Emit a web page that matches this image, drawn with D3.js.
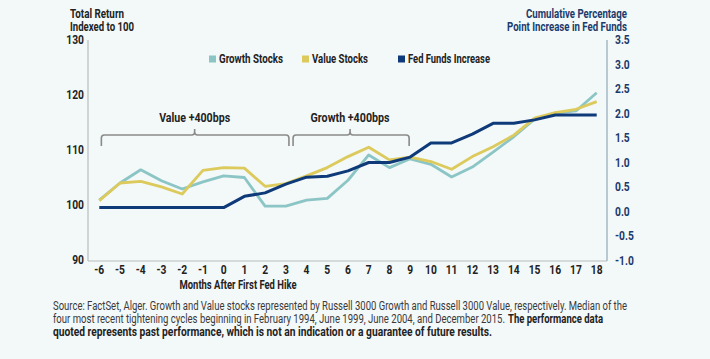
<!DOCTYPE html>
<html><head><meta charset="utf-8">
<script src="https://cdn.jsdelivr.net/npm/d3@7"></script>
<style>
html,body{margin:0;padding:0;background:#f3f8f8;}
svg{display:block;font-family:"Roboto","Liberation Sans",sans-serif;}
</style></head><body>
<svg id="c" width="710" height="359"></svg>
<script>
const months = [-6,-5,-4,-3,-2,-1,0,1,2,3,4,5,6,7,8,9,10,11,12,13,14,15,16,17,18];
const growth = [100.9,104.0,106.4,104.4,102.9,104.2,105.3,105.0,99.8,99.8,100.9,101.2,104.5,109.1,106.8,108.4,107.4,105.1,106.9,109.6,112.4,115.6,116.7,117.1,120.4];
const value  = [100.8,104.0,104.3,103.3,102.0,106.3,106.8,106.7,103.4,103.9,105.3,106.8,108.8,110.5,108.2,108.7,107.9,106.5,108.8,110.6,112.7,115.8,116.8,117.4,118.8];
const fedFunds = [0.08,0.08,0.08,0.08,0.08,0.08,0.08,0.31,0.38,0.56,0.70,0.72,0.83,1.00,1.00,1.11,1.40,1.40,1.58,1.80,1.80,1.87,1.97,1.97,1.97];
const leftTicks = [90,100,110,120,130];
const rightTicks = [-1.0,-0.5,0.0,0.5,1.0,1.5,2.0,2.5,3.0,3.5];
const seriesNames = ["Growth Stocks","Value Stocks","Fed Funds Increase"];
const brackets = [{label:"Value +400bps", from:-5.9, to:3.15, mid:-1.4},
                  {label:"Growth +400bps", from:3.35, to:8.95, mid:6.1}];

const colors = {growth:"#8cc5c5", value:"#dcca5c", fed:"#0f3a7a"};
const svg = d3.select("#c");
const x = d3.scaleLinear().domain([-6,18]).range([99.3,596.7]);
const yL = d3.scaleLinear().domain([90,130]).range([260,40]);
const yR = d3.scaleLinear().domain([-1,3.5]).range([260.5,40]);

function fit(sel, w){ sel.each(function(){ this.setAttribute("textLength", w); this.setAttribute("lengthAdjust","spacingAndGlyphs"); }); return sel; }
function squeeze(sel, f){ sel.each(function(){ const l=this.getComputedTextLength(); this.setAttribute("textLength", l*f); this.setAttribute("lengthAdjust","spacingAndGlyphs"); }); return sel; }

// axes lines
svg.append("line").attr("x1",88).attr("x2",88).attr("y1",40).attr("y2",261).attr("stroke","#b8bcbe").attr("stroke-width",1.2);
svg.append("line").attr("x1",88).attr("x2",607).attr("y1",261).attr("y2",261).attr("stroke","#b8bcbe").attr("stroke-width",1.2);
svg.append("line").attr("x1",607).attr("x2",607).attr("y1",40).attr("y2",261).attr("stroke","#9fb4c2").attr("stroke-width",1.4);

// left tick labels
squeeze(svg.selectAll(".lt").data(leftTicks).enter().append("text")
  .attr("x",84).attr("y",d=>yL(d)).attr("dy","0.35em").attr("text-anchor","end")
  .attr("font-size",12.5).attr("fill","#222").attr("font-weight","bold").text(d=>d), 0.82);
// right tick labels
squeeze(svg.selectAll(".rt").data(rightTicks).enter().append("text")
  .attr("x",615).attr("y",d=>yR(d)).attr("dy","0.35em").attr("text-anchor","start")
  .attr("font-size",12.5).attr("fill","#1b3a6c").attr("font-weight","bold").text(d=>d3.format(".1f")(d).replace("−","-")), 0.82);
// x tick labels
squeeze(svg.selectAll(".xt").data(months).enter().append("text")
  .attr("x",d=>x(d)).attr("y",270).attr("dy","0.35em").attr("text-anchor","middle")
  .attr("font-size",12.5).attr("fill","#222").attr("font-weight","bold").text(d=>d), 0.82);

// axis titles
fit(svg.append("text").attr("x",70).attr("y",17.5).attr("font-size",12).attr("font-weight","bold").attr("fill","#222").text("Total Return"),54);
fit(svg.append("text").attr("x",70).attr("y",30.5).attr("font-size",12).attr("font-weight","bold").attr("fill","#222").text("Indexed to 100"),64);
fit(svg.append("text").attr("x",627).attr("y",17.5).attr("text-anchor","end").attr("font-size",12).attr("font-weight","bold").attr("fill","#1b3a6c").text("Cumulative Percentage"),101);
fit(svg.append("text").attr("x",627).attr("y",30.5).attr("text-anchor","end").attr("font-size",12).attr("font-weight","bold").attr("fill","#1b3a6c").text("Point Increase in Fed Funds"),120);
fit(svg.append("text").attr("x",238).attr("y",289).attr("text-anchor","middle").attr("font-size",12).attr("font-weight","bold").attr("fill","#222").text("Months After First Fed Hike"),117);

// brackets
const bW=[71,79];
brackets.forEach((b,i)=>{
  const x0=x(b.from), x1=x(b.to), xm=x(b.mid), yt=135, yb=146, r=3;
  const p = `M${x0},${yb} L${x0},${yt+r} Q${x0},${yt} ${x0+r},${yt} L${xm-r},${yt} Q${xm},${yt} ${xm},${yt-r} L${xm},${yt-6} M${xm},${yt-r} Q${xm},${yt} ${xm+r},${yt} L${x1-r},${yt} Q${x1},${yt} ${x1},${yt+r} L${x1},${yb}`;
  svg.append("path").attr("d",p).attr("fill","none").attr("stroke","#8a8a8a").attr("stroke-width",1.6);
  fit(svg.append("text").attr("x",xm).attr("y",121.5).attr("text-anchor","middle").attr("font-size",12.5).attr("font-weight","bold").attr("fill","#222").text(b.label), bW[i]);
});

// lines
const lineL = d3.line().x((d,i)=>x(months[i])).y(d=>yL(d));
const lineR = d3.line().x((d,i)=>x(months[i])).y(d=>yR(d));
svg.append("path").datum(growth).attr("d",lineL).attr("fill","none").attr("stroke",colors.growth).attr("stroke-width",2.8).attr("stroke-linejoin","round");
svg.append("path").datum(value).attr("d",lineL).attr("fill","none").attr("stroke",colors.value).attr("stroke-width",2.8).attr("stroke-linejoin","round");
svg.append("path").datum(fedFunds).attr("d",lineR).attr("fill","none").attr("stroke",colors.fed).attr("stroke-width",3).attr("stroke-linejoin","round");

// legend
const legX=[209,302,398], legC=[colors.growth,colors.value,colors.fed], legW=[64,56,82];
seriesNames.forEach((n,i)=>{
  svg.append("rect").attr("x",legX[i]).attr("y",55.5).attr("width",7).attr("height",7).attr("fill",legC[i]);
  fit(svg.append("text").attr("x",legX[i]+10).attr("y",59).attr("dy","0.35em").attr("font-size",12).attr("font-weight","bold").attr("fill","#222").text(n), legW[i]);
});

// footnote
const f = svg.append("g").attr("font-size",12).attr("fill","#3a3a3a");
fit(f.append("text").attr("x",53).attr("y",310).text("Source: FactSet, Alger. Growth and Value stocks represented by Russell 3000 Growth and Russell 3000 Value, respectively. Median of the"),574);
fit(f.append("text").attr("x",53).attr("y",323).text("four most recent tightening cycles beginning in February 1994, June 1999, June 2004, and December 2015."),452);
fit(f.append("text").attr("x",508).attr("y",323).attr("font-weight","bold").attr("fill","#222").text("The performance data"),95);
fit(f.append("text").attr("x",53).attr("y",336).attr("font-weight","bold").attr("fill","#222").text("quoted represents past performance, which is not an indication or a guarantee of future results."),439);
</script>
</body></html>
